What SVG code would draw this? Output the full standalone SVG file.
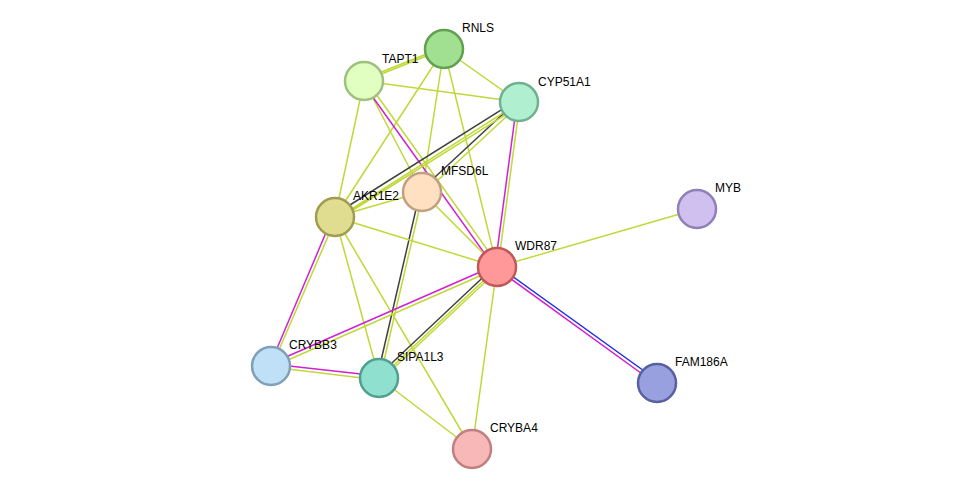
<svg xmlns="http://www.w3.org/2000/svg" width="975" height="495" viewBox="0 0 975 495">
<style>
.g{stroke:#c0d838;stroke-width:1.5;fill:none}
.m{stroke:#d020d0;stroke-width:1.5;fill:none}
.k{stroke:#404040;stroke-width:1.5;fill:none}
.b{stroke:#2030e0;stroke-width:1.5;fill:none}
.n{stroke-width:2.5}
text{font-family:"Liberation Sans",Arial,sans-serif;font-size:12px;fill:#000}
</style>
<rect width="975" height="495" fill="#fff"/>
<g id="edges">
<path class="g" d="M444 49L364 81M444 47L364 79M444 49L519 102M444 49L422 192M444 49L335 217M444 49L497 267"/>
<path class="g" d="M364 81L519 102M364 81L422 192M364 81L335 217M366 80L499 266"/>
<path class="m" d="M362 82L495 268"/>
<path class="k" d="M518 100L421 190"/><path class="g" d="M520 104L423 194"/>
<path class="k" d="M517 100L334 215"/><path class="g" d="M519 103L336 219M521 105L337 220"/>
<path class="m" d="M517 102L495 267"/><path class="g" d="M520 102L498 267"/>
<path class="g" d="M422 192L335 217M422 192L497 267M423 193L380 378"/>
<path class="k" d="M420 192L377 378"/>
<path class="g" d="M335 217L497 267M336 218L272 366M335 217L379 378M335 217L472 449"/>
<path class="m" d="M333 216L270 365"/>
<path class="g" d="M497 267L697 209M497 267L472 449"/>
<path class="b" d="M498 266L658 381"/><path class="m" d="M496 268L656 384"/>
<path class="m" d="M496 265L270 364"/><path class="g" d="M498 268L272 367"/>
<path class="k" d="M495 266L377 377"/><path class="g" d="M497 268L379 379M499 269L381 380"/>
<path class="m" d="M271 364L379 376"/><path class="g" d="M271 367L379 380"/>
<path class="g" d="M379 378L472 449"/>
</g>
<g id="RNLS"><circle class="n" cx="444" cy="49" r="19" fill="#a0e090" stroke="#60a050"/><text x="462" y="32">RNLS</text></g>
<g id="TAPT1"><circle class="n" cx="364" cy="81" r="19" fill="#e0ffc0" stroke="#a0c080"/><text x="382" y="63">TAPT1</text></g>
<g id="CYP51A1"><circle class="n" cx="519" cy="102" r="19" fill="#b0f0d0" stroke="#70b090"/><text x="538" y="86">CYP51A1</text></g>
<g id="MFSD6L"><circle class="n" cx="422" cy="192" r="19" fill="#ffe0c0" stroke="#c0a080"/><text x="441" y="175">MFSD6L</text></g>
<g id="AKR1E2"><circle class="n" cx="335" cy="217" r="19" fill="#e0dc90" stroke="#a09c50"/><text x="353" y="200">AKR1E2</text></g>
<g id="WDR87"><circle class="n" cx="497" cy="267" r="19" fill="#ff9898" stroke="#c05858"/><text x="515" y="250">WDR87</text></g>
<g id="MYB"><circle class="n" cx="697" cy="209" r="19" fill="#d0c0f0" stroke="#9080b8"/><text x="715" y="192">MYB</text></g>
<g id="FAM186A"><circle class="n" cx="657" cy="383" r="19" fill="#98a0e0" stroke="#5860a0"/><text x="675" y="366">FAM186A</text></g>
<g id="CRYBB3"><circle class="n" cx="271" cy="366" r="19" fill="#c0e0f8" stroke="#80a0b8"/><text x="289" y="349">CRYBB3</text></g>
<g id="SIPA1L3"><circle class="n" cx="379" cy="378" r="19" fill="#90e0d0" stroke="#50a090"/><text x="397" y="361">SIPA1L3</text></g>
<g id="CRYBA4"><circle class="n" cx="472" cy="449" r="19" fill="#f8b8b8" stroke="#c08080"/><text x="490" y="432">CRYBA4</text></g>
</svg>
